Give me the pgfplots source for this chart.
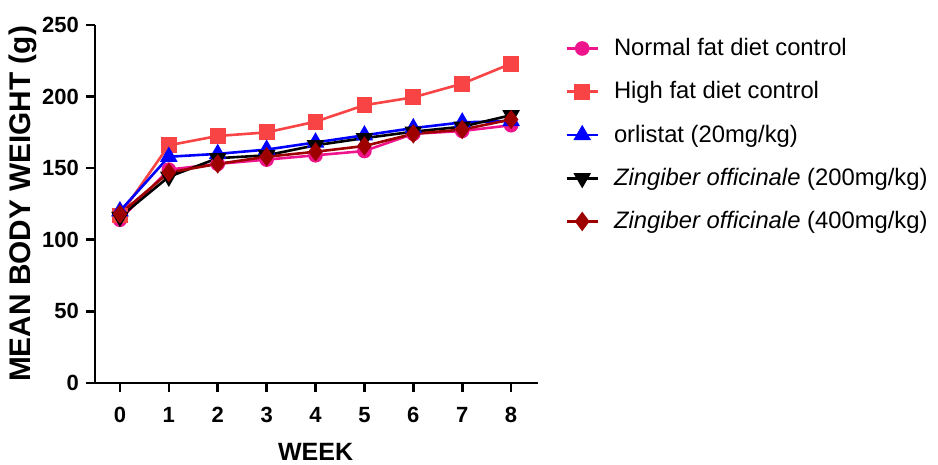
\documentclass[border=0pt]{standalone}
\usepackage{fontspec}
\setmainfont{Liberation Sans}
\usepackage{pgfplots}
\pgfplotsset{compat=1.18}
\definecolor{cNormal}{HTML}{F0148C}
\definecolor{cHigh}{HTML}{F84444}
\definecolor{cOrl}{HTML}{0000FF}
\definecolor{cZ2}{HTML}{000000}
\definecolor{cZ4}{HTML}{9E0000}
\begin{document}
\begin{tikzpicture}
\path[use as bounding box] (-47.5pt,-41pt) rectangle (421.5pt,191.5pt);
\begin{axis}[
  at={(0,0)}, anchor=south west,
  scale only axis, width=221.5pt, height=179pt,
  xmin=-0.51, xmax=8.55, ymin=0, ymax=250,
  xtick={0,...,8}, ytick={0,50,...,250},
  axis lines=left, axis line style={-, line width=1.3pt},
  tick align=outside, major tick length=4.5pt,
  tick style={line width=1.3pt, black},
  /pgf/number format/assume math mode=true,
  ticklabel style={font=\bfseries\fontsize{11}{12}\selectfont},
  xticklabel style={yshift=-4pt},
  xlabel={WEEK}, ylabel={MEAN BODY WEIGHT (g)},
  xlabel style={font=\bfseries\fontsize{12.5}{14}\selectfont, at={(axis description cs:0.498,-0.193)}, anchor=center},
  ylabel style={font=\bfseries\fontsize{14.9}{16}\selectfont, at={(axis description cs:-0.1625,0.5)}, anchor=center},
  every axis plot/.append style={line width=1.3pt},
  legend style={draw=none, fill=none, at={(1.061,0.975)}, anchor=north west,
    font=\fontsize{11.9}{14}\selectfont, row sep=7.5pt, column sep=5.5pt, inner sep=0pt},
  legend cell align=left,
  legend image code/.code={
    \draw[#1, mark repeat=2, mark phase=2] plot coordinates {(0pt,0pt) (7.75pt,0pt) (15.5pt,0pt)};
  },
]
\addplot[cNormal, mark=*, mark size=3pt] coordinates {(0,114) (1,149) (2,153) (3,156) (4,159) (5,162) (6,174) (7,176) (8,180)};
\addlegendentry{Normal fat diet control}
\addplot[cHigh, mark=square*, mark size=3.3pt] coordinates {(0,117) (1,166) (2,172.5) (3,175) (4,182.5) (5,194) (6,199.5) (7,209) (8,223)};
\addlegendentry{High fat diet control}
\addplot[cOrl, mark=triangle*, mark size=3.8pt] coordinates {(0,120) (1,158) (2,160) (3,163) (4,168) (5,173) (6,178) (7,182) (8,183)};
\addlegendentry{orlistat (20mg/kg)}
\addplot[cZ2, mark=triangle*, mark options={rotate=180}, mark size=3.8pt] coordinates {(0,116) (1,144) (2,157) (3,159) (4,166) (5,171) (6,175.5) (7,179) (8,187)};
\addlegendentry{\textit{Zingiber officinale} (200mg/kg)\rule[-2pt]{0pt}{2pt}}
\addplot[cZ4, mark=diamond*, mark size=3.8pt] coordinates {(0,118) (1,147) (2,153) (3,158) (4,161.5) (5,165.5) (6,174) (7,177) (8,184)};
\addlegendentry{\textit{Zingiber officinale} (400mg/kg)}
\end{axis}
\end{tikzpicture}
\end{document}
